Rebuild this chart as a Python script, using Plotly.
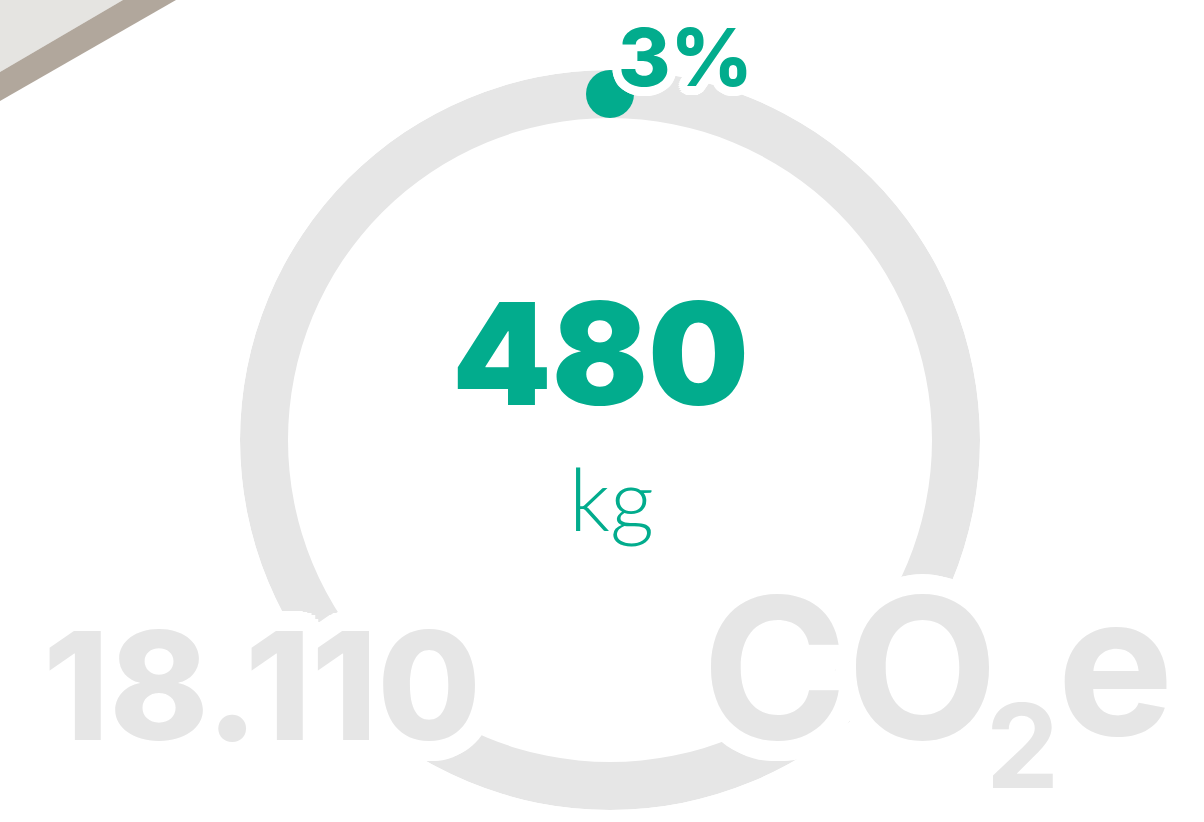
import math
import plotly.graph_objects as go

# ---- values ---------------------------------------------------------------
total_kg = 18110          # whole footprint
part_kg = 480             # highlighted part
total_label = "18.110"
unit_label = "kg"
gas_label = ["CO", "2", "e"]   # CO2e, subscript drawn separately
share_pct = round(100 * part_kg / total_kg)

# ---- styling --------------------------------------------------------------
W, H = 1204, 822
GREEN = "#02AC8D"
GREY = "#E6E6E6"
CX, CY = 610, 440          # ring centre (px from top-left)
R_OUT, R_IN = 370, 322
FONT = "Inter"


def px(x):
    return x / W


def py(y):
    return 1 - y / H


def halo(radius, steps=28):
    """White text-shadow ring that reads as a thick outline."""
    parts = []
    for r in (radius / 3, 2 * radius / 3, radius):
        for k in range(steps):
            a = 2 * math.pi * k / steps
            parts.append(f"{r*math.cos(a):.1f}px {r*math.sin(a):.1f}px 0 #fff")
    return ", ".join(parts)


fig = go.Figure()

# grey ring for the total
fig.add_trace(go.Barpolar(
    r=[R_OUT - R_IN], base=[R_IN], theta=[180], width=[360],
    marker=dict(color=GREY, line=dict(width=0)),
    hoverinfo="skip", showlegend=False,
))
# green marker where the highlighted part starts
fig.add_trace(go.Scatterpolar(
    r=[(R_OUT + R_IN) / 2], theta=[0], mode="markers",
    marker=dict(size=R_OUT - R_IN, color=GREEN, line=dict(width=0)),
    hoverinfo="skip", showlegend=False,
))

fig.update_layout(
    width=W, height=H,
    margin=dict(l=0, r=0, t=0, b=0),
    paper_bgcolor="white", plot_bgcolor="white",
    showlegend=False,
    polar=dict(
        domain=dict(x=[px(CX - R_OUT), px(CX + R_OUT)],
                    y=[py(CY + R_OUT), py(CY - R_OUT)]),
        bgcolor="rgba(0,0,0,0)",
        bargap=0,
        radialaxis=dict(range=[0, R_OUT], visible=False),
        angularaxis=dict(visible=False, rotation=90, direction="clockwise"),
    ),
)

# corner decoration
def poly(points):
    return "M " + " L ".join(f"{px(x):.5f},{py(y):.5f}" for x, y in points) + " Z"


fig.add_shape(type="path", xref="paper", yref="paper", layer="below",
              path=poly([(0, 0), (123, 0), (0, 72)]),
              fillcolor="#E5E4E1", line=dict(width=0))
fig.add_shape(type="path", xref="paper", yref="paper", layer="below",
              path=poly([(123, 0), (176, 0), (0, 101), (0, 72)]),
              fillcolor="#B1A79C", line=dict(width=0))


def label(text, x, y, size, weight, color, xanchor="center", shadow=None,
          family=FONT):
    font = dict(family=family, size=size, weight=weight, color=color)
    if shadow:
        font["shadow"] = shadow
    fig.add_annotation(
        text=text, x=px(x), y=py(y), xref="paper", yref="paper",
        xanchor=xanchor, yanchor="middle", showarrow=False, font=font,
    )


# single-run texts: the halo sits beneath the glyphs of the same run
label(f"{share_pct}%", 685, 57, 80, 800, GREEN, shadow=halo(9))
label(total_label, 262, 685, 150, 800, GREY, shadow=halo(20))

# CO2e in three pieces: white halos first, then the grey glyphs on top
gas = [
    (gas_label[0], 700, 667, 196),
    (gas_label[1], 984, 746, 116),
    (gas_label[2], 1055, 663, 196),
]
for t, x, y, size in gas:
    label(t, x, y, size, 700, "white", xanchor="left", shadow=halo(20))

# white counter of the big "O"
fig.add_shape(type="circle", xref="paper", yref="paper", layer="above",
              x0=px(878), x1=px(938), y0=py(633), y1=py(695),
              fillcolor="white", line=dict(width=0))

for t, x, y, size in gas:
    label(t, x, y, size, 700, GREY, xanchor="left")

# centre value and unit
label(f"{part_kg}", 600, 353, 142, 900, GREEN)
label(unit_label, 611, 497, 86, 300, GREEN, family="Lato")

fig.write_html("out.html")
